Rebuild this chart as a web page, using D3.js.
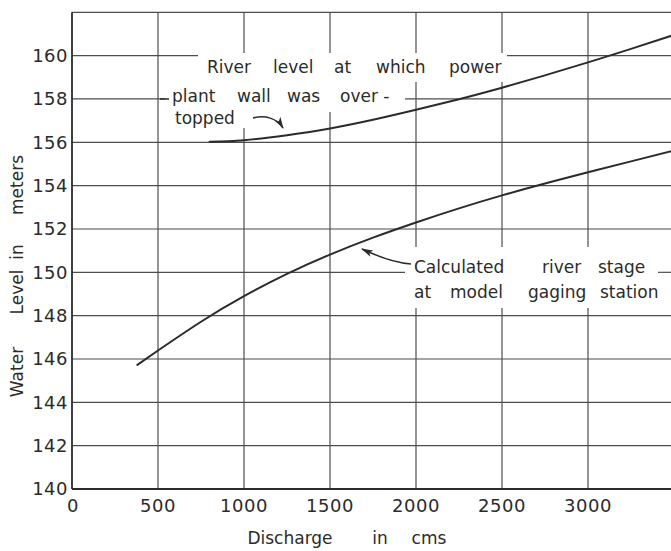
<!DOCTYPE html>
<html>
<head>
<meta charset="utf-8">
<script src="https://cdn.jsdelivr.net/npm/d3@7"></script>
<style>
  body { margin: 0; background: #fff; }
  svg { display: block; }
  text { font-family: "DejaVu Sans", sans-serif; fill: #2b2b2b; }
</style>
</head>
<body>
<svg id="chart" width="671" height="551"></svg>
<script>
// Axis ticks
const dischargeTicks = [0, 500, 1000, 1500, 2000, 2500, 3000];
const levelTicks = [140, 142, 144, 146, 148, 150, 152, 154, 156, 158, 160];

// River level at which the power plant wall was overtopped (m) vs discharge (cms)
const overtopDischarge = [800, 1000, 1250, 1500, 1750, 2000, 2250, 2500, 2750, 3000, 3250, 3490];
const overtopLevel     = [156.03, 156.1, 156.33, 156.64, 157.04, 157.5, 157.99, 158.52, 159.09, 159.69, 160.31, 160.93];

// Calculated river stage at the model gaging station (m) vs discharge (cms)
const gageDischarge = [380, 500, 750, 1000, 1250, 1500, 1750, 2000, 2250, 2500, 2750, 3000, 3250, 3490];
const gageLevel     = [145.73, 146.39, 147.72, 148.9, 149.93, 150.82, 151.6, 152.3, 152.95, 153.55, 154.1, 154.62, 155.12, 155.6];

const W = 671, H = 551;
const svg = d3.select("#chart");
const ink = "#2b2b2b", gridInk = "#4d4d4d";

const x = d3.scaleLinear().domain([0, 3500]).range([72, 674]);
const y = d3.scaleLinear().domain([140, 162]).range([489, 12.3]);

// ---- grid ----
const grid = svg.append("g").attr("stroke", gridInk).attr("stroke-width", 1.2);
grid.selectAll("line.h").data(levelTicks.concat([162])).join("line")
  .attr("class", "h")
  .attr("x1", x(0)).attr("x2", W)
  .attr("y1", d => y(d)).attr("y2", d => y(d));
grid.selectAll("line.v").data(dischargeTicks.filter(d => d > 0)).join("line")
  .attr("class", "v")
  .attr("x1", d => x(d)).attr("x2", d => x(d))
  .attr("y1", y(140)).attr("y2", y(162));

// ---- clearings behind the hand lettering ----
const clear = svg.append("g").attr("fill", "#fff");
[[198, 53, 309, 29], [165, 82, 240, 30], [168, 112, 80, 16], [405, 247, 266, 61]]
  .forEach(([rx, ry, rw, rh]) => clear.append("rect")
    .attr("x", rx).attr("y", ry).attr("width", rw).attr("height", rh));
// stub of the 150 m line showing past "stage"
svg.append("line").attr("stroke", gridInk).attr("stroke-width", 1.2)
  .attr("x1", 658).attr("x2", W).attr("y1", y(150)).attr("y2", y(150));

// ---- axes frame ----
const frame = svg.append("g").attr("stroke", ink).attr("stroke-width", 1.8).attr("fill", "none");
frame.append("line").attr("x1", x(0)).attr("x2", x(0)).attr("y1", y(162)).attr("y2", y(140));
frame.append("line").attr("x1", x(0)).attr("x2", W).attr("y1", y(140)).attr("y2", y(140));

// ---- tick labels ----
svg.append("g").selectAll("text").data(levelTicks).join("text")
  .attr("x", 68).attr("y", d => y(d)).attr("dy", "0.36em")
  .attr("text-anchor", "end").attr("font-size", 18).attr("letter-spacing", 0.5)
  .text(d => d);
svg.append("g").selectAll("text").data(dischargeTicks).join("text")
  .attr("x", d => x(d) + (d === 0 ? 1 : 0)).attr("y", 512)
  .attr("text-anchor", "middle").attr("font-size", 18).attr("letter-spacing", 0.5)
  .text(d => d);

// ---- axis titles ----
const xt = svg.append("g").attr("font-size", 17);
[["Discharge", 290], ["in", 380], ["cms", 429]].forEach(([w, cx]) =>
  xt.append("text").attr("x", cx).attr("y", 544).attr("text-anchor", "middle").text(w));
const yt = svg.append("g").attr("font-size", 17);
[["Water", 372], ["Level", 292], ["in", 252], ["meters", 185]].forEach(([w, cy]) =>
  yt.append("text").attr("transform", `translate(23,${cy}) rotate(-90)`)
    .attr("text-anchor", "middle").text(w));

// ---- curves ----
const line = d3.line()
  .x(d => x(d[0])).y(d => y(d[1]))
  .curve(d3.curveNatural);
const curves = svg.append("g").attr("fill", "none").attr("stroke", ink)
  .attr("stroke-width", 2).attr("stroke-linecap", "round");
curves.append("path").attr("d", line(d3.zip(overtopDischarge, overtopLevel)));
curves.append("path").attr("d", line(d3.zip(gageDischarge, gageLevel)));

// ---- annotations ----
const defs = svg.append("defs");
defs.append("marker").attr("id", "head")
  .attr("viewBox", "0 0 12 8").attr("refX", 11).attr("refY", 4)
  .attr("markerWidth", 12).attr("markerHeight", 8)
  .attr("markerUnits", "userSpaceOnUse").attr("orient", "auto")
  .append("path").attr("d", "M0,0.5 L12,4 L0,7.5 L3,4 Z").attr("fill", ink);

const notes = svg.append("g").attr("font-size", 17);
const words = [
  ["River", 207, 73], ["level", 273, 73], ["at", 334, 73], ["which", 376, 73], ["power", 449, 73],
  ["plant", 172, 102], ["wall", 237, 102], ["was", 287, 102], ["over -", 340, 102],
  ["topped", 175, 124],
  ["Calculated", 414, 273], ["river", 542, 273], ["stage", 598, 273],
  ["at", 414, 298], ["model", 450, 298], ["gaging", 528, 298], ["station", 600, 298]
];
words.forEach(([w, wx, wy]) => notes.append("text").attr("x", wx).attr("y", wy).text(w));

const arrows = svg.append("g").attr("fill", "none").attr("stroke", ink).attr("stroke-width", 1.5);
arrows.append("path").attr("d", "M253,118 C265,115 277,118 283,128").attr("marker-end", "url(#head)");
arrows.append("path").attr("d", "M411,264 C396,263 381,258 362,249").attr("marker-end", "url(#head)");
// short lead-in stroke before "plant"
arrows.append("line").attr("x1", 160).attr("x2", 169).attr("y1", y(158)).attr("y2", y(158));
</script>
</body>
</html>
